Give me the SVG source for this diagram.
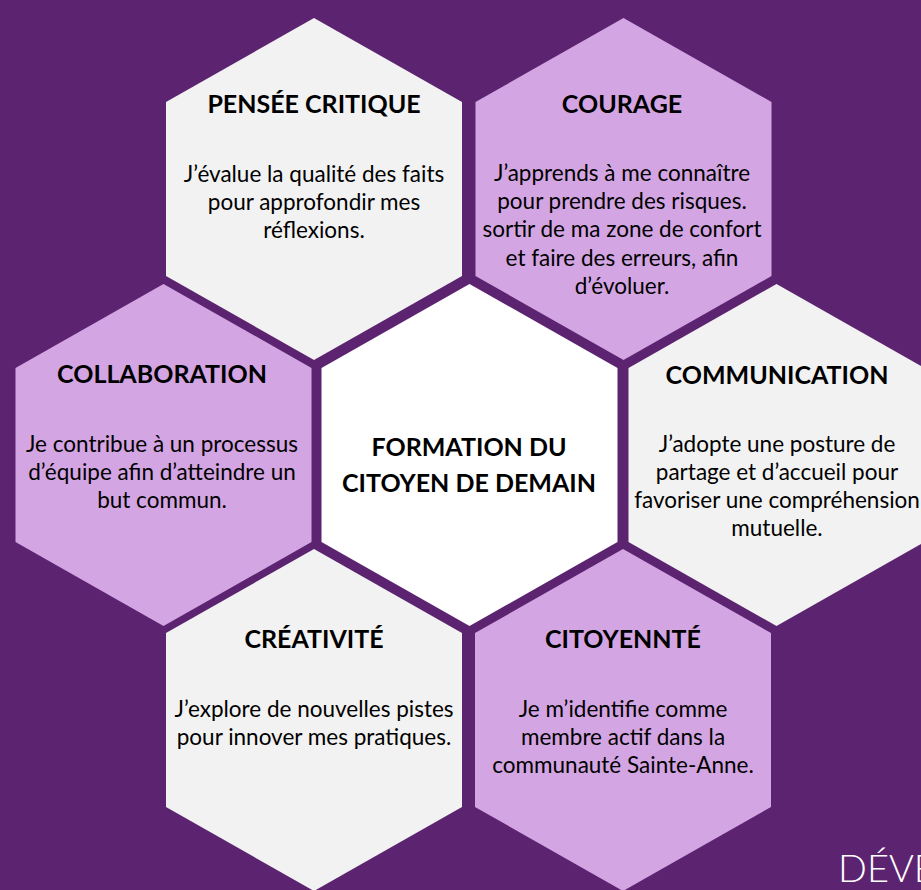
<svg xmlns="http://www.w3.org/2000/svg" width="921" height="890" viewBox="0 0 921 890">
<style>
.bg{fill:#5C2370}
.hex{stroke:none}
.gray{fill:#F2F2F2}
.lav{fill:#D4A5E3}
.white{fill:#FFFFFF}
text{font-family:Lato,"Open Sans","Liberation Sans",sans-serif;fill:#000;text-anchor:middle}
.t{font-weight:bold;font-size:25px}
.b{font-size:22.5px}
.foot{font-family:Lato,"Liberation Sans",sans-serif;font-weight:300;font-size:38px;fill:#FFFFFF;text-anchor:start}
</style>
<rect class="bg" x="0" y="0" width="921" height="890"/>
<g id="connectors"/>
<g id="pensee">
<polygon class="hex gray" points="314,18 462,102 462,276 314,360 166,276 166,102"/>
<text class="t" x="314" y="113">PENSÉE CRITIQUE</text>
<text class="b" x="314" y="182">J’évalue la qualité des faits</text>
<text class="b" x="314" y="210">pour approfondir mes</text>
<text class="b" x="314" y="238">réflexions.</text>
</g>
<g id="courage">
<polygon class="hex lav" points="623.5,18 771.5,102 771.5,276 623.5,360 475.5,276 475.5,102"/>
<text class="t" x="622" y="113">COURAGE</text>
<text class="b" x="622" y="181">J’apprends à me connaître</text>
<text class="b" x="622" y="209">pour prendre des risques.</text>
<text class="b" x="622" y="237">sortir de ma zone de confort</text>
<text class="b" x="622" y="266">et faire des erreurs, afin</text>
<text class="b" x="622" y="294">d’évoluer.</text>
</g>
<g id="collaboration">
<polygon class="hex lav" points="163.5,284 311.5,368 311.5,542 163.5,626 15.5,542 15.5,368"/>
<text class="t" x="162" y="383">COLLABORATION</text>
<text class="b" x="162" y="452">Je contribue à un processus</text>
<text class="b" x="162" y="480">d’équipe afin d’atteindre un</text>
<text class="b" x="162" y="508">but commun.</text>
</g>
<g id="centre">
<polygon class="hex white" points="469.5,284 617.5,368 617.5,542 469.5,626 321.5,542 321.5,368"/>
<text class="t" x="469" y="456">FORMATION DU</text>
<text class="t" x="469" y="492">CITOYEN DE DEMAIN</text>
</g>
<g id="communication">
<polygon class="hex gray" points="776.5,284 924.5,368 924.5,542 776.5,626 628.5,542 628.5,368"/>
<text class="t" x="777" y="384">COMMUNICATION</text>
<text class="b" x="777" y="452">J’adopte une posture de</text>
<text class="b" x="777" y="480">partage et d’accueil pour</text>
<text class="b" x="777" y="508">favoriser une compréhension</text>
<text class="b" x="777" y="536">mutuelle.</text>
</g>
<g id="creativite">
<polygon class="hex gray" points="314,549 462,633 462,807 314,891 166,807 166,633"/>
<text class="t" x="314" y="648">CRÉATIVITÉ</text>
<text class="b" x="314" y="717">J’explore de nouvelles pistes</text>
<text class="b" x="314" y="745">pour innover mes pratiques.</text>
</g>
<g id="citoyennete">
<polygon class="hex lav" points="623,549 771,633 771,807 623,891 475,807 475,633"/>
<text class="t" x="623" y="648">CITOYENNTÉ</text>
<text class="b" x="623" y="717">Je m’identifie comme</text>
<text class="b" x="623" y="745">membre actif dans la</text>
<text class="b" x="623" y="773">communauté Sainte-Anne.</text>
</g>
<text class="foot" x="838" y="882">DÉVE</text>
</svg>
